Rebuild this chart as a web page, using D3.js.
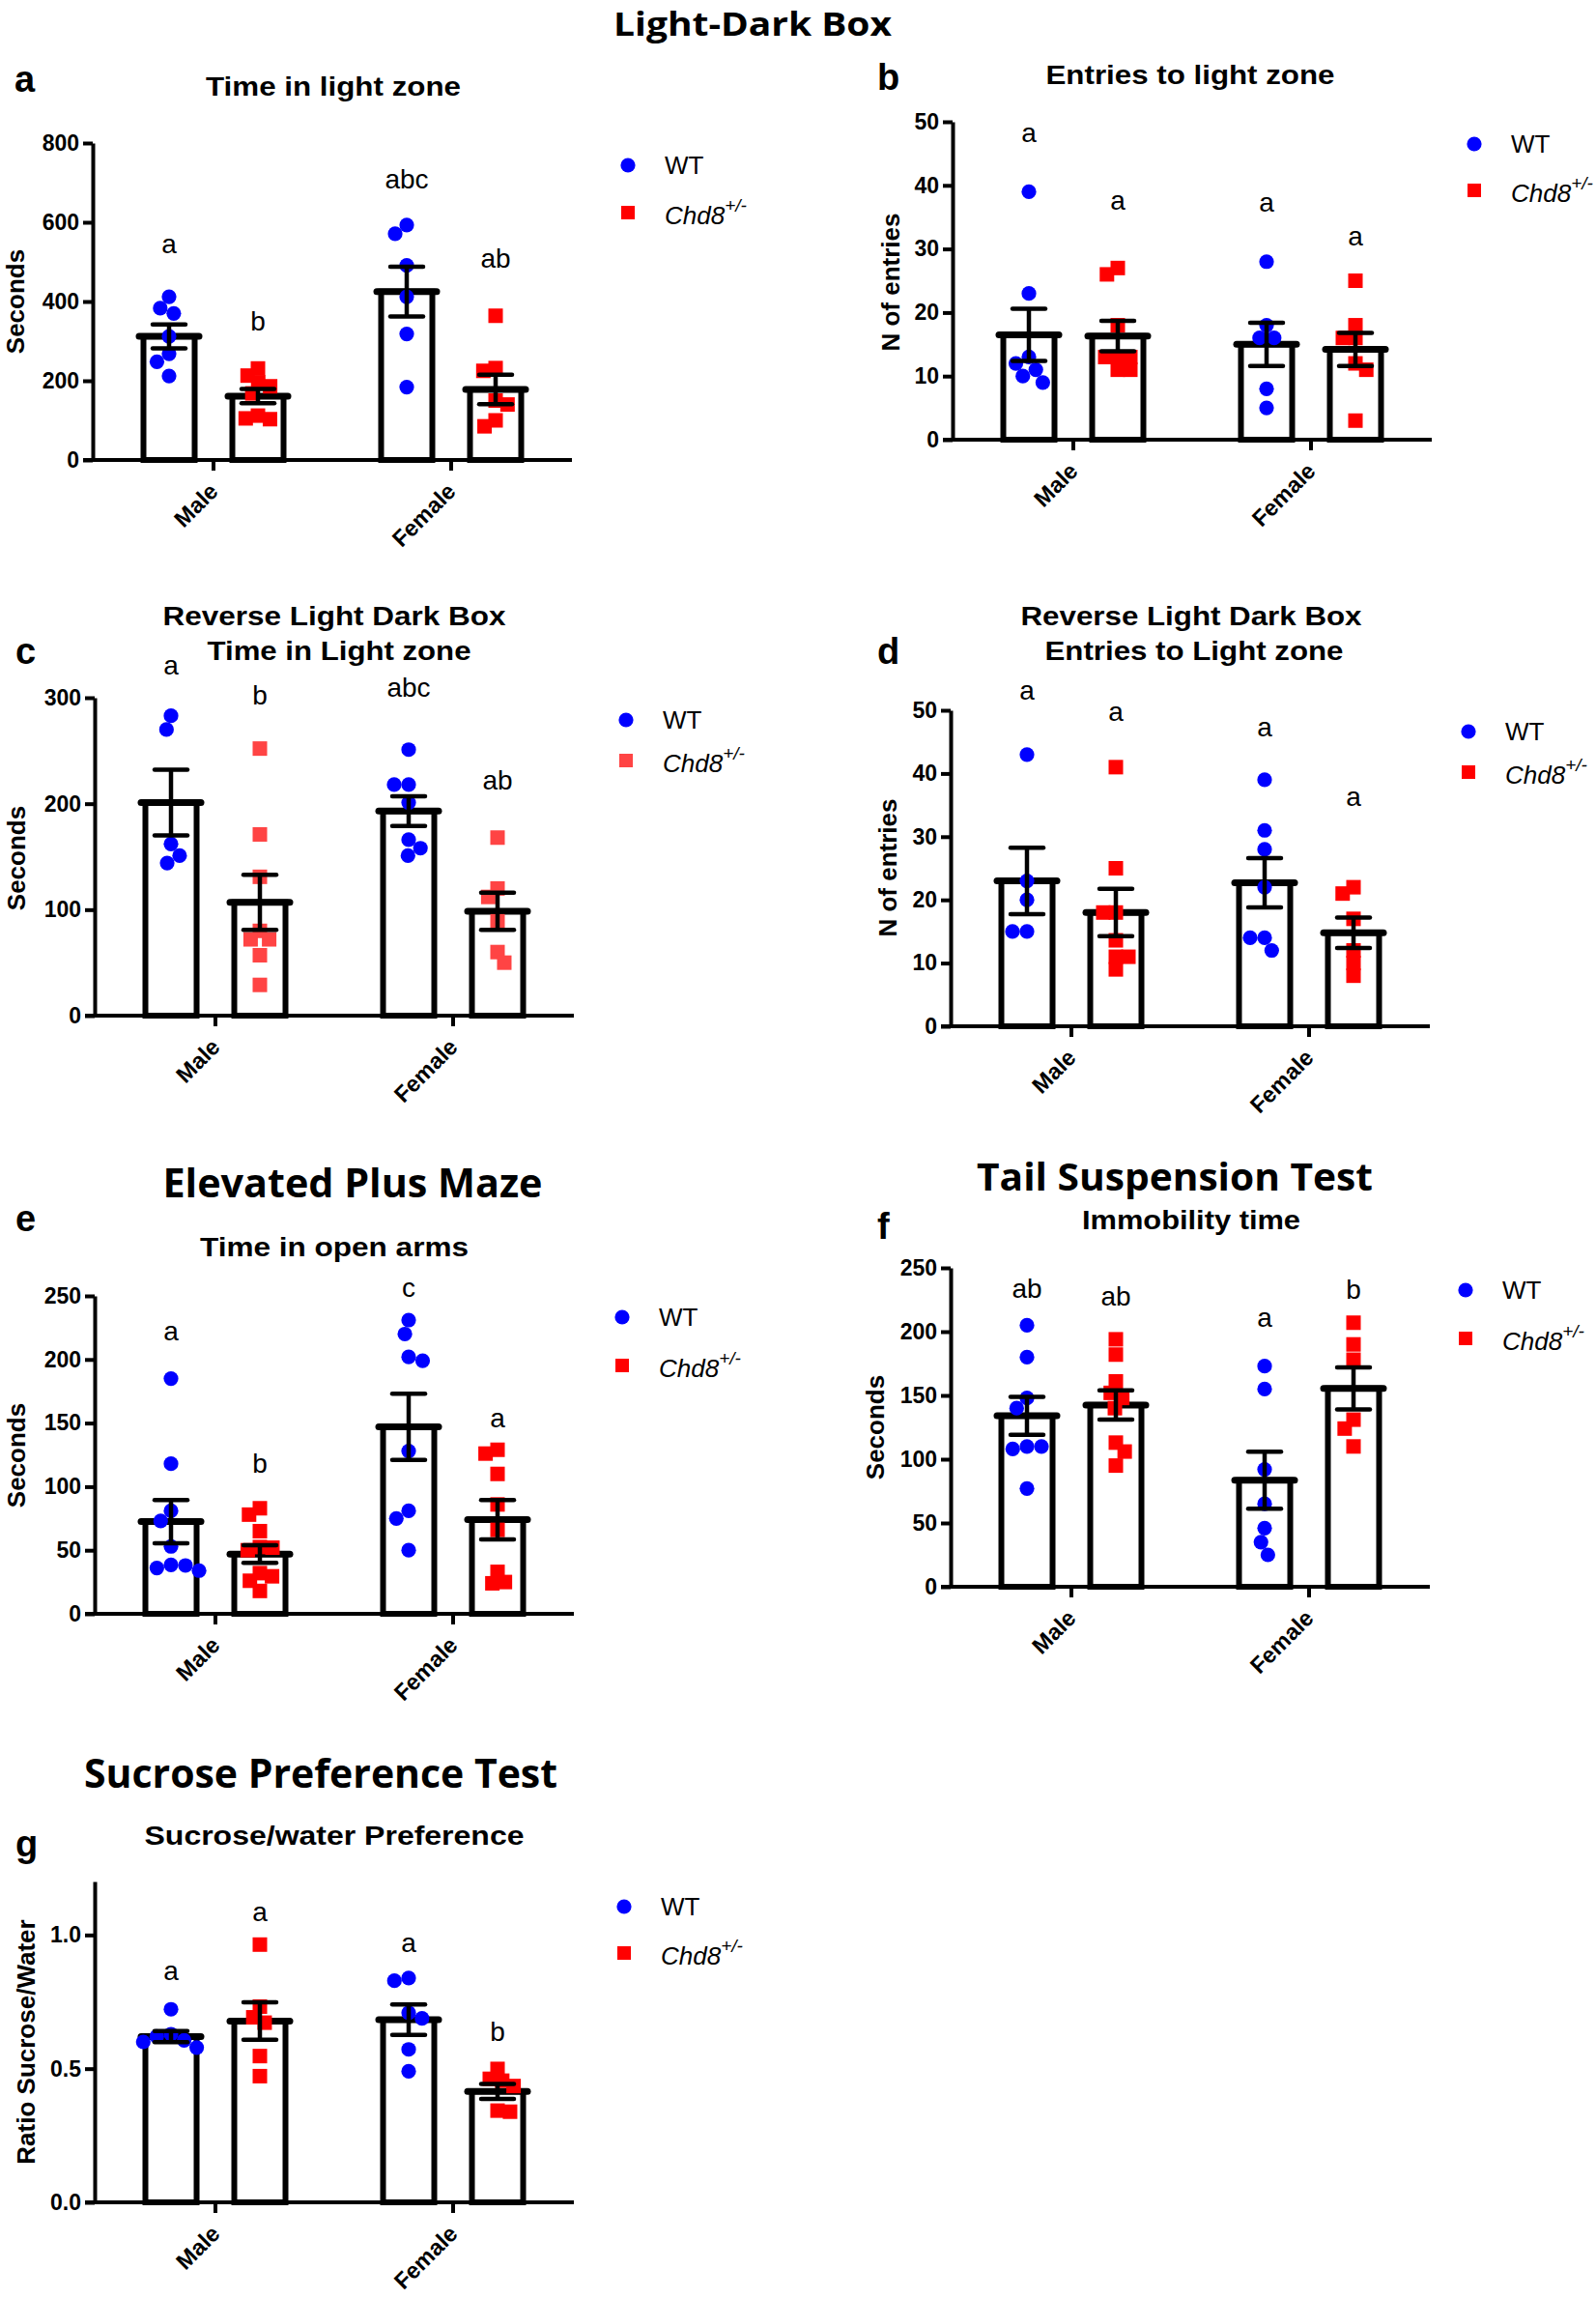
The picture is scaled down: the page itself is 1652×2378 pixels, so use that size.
<!DOCTYPE html>
<html><head><meta charset="utf-8">
<script src="https://cdn.jsdelivr.net/npm/d3@7"></script>
<style>body{margin:0;background:#fff}</style>
</head><body>
<script>
// ---------------- DATA ----------------
const groups = ["Male", "Female"];
const genotypes = ["WT", "Chd8+/-"];

// a: Light-Dark Box – Time in light zone (s)
const ldTimeMaleWT    = [412, 383, 370, 312, 268, 248, 212];
const ldTimeMaleHet   = [231, 213, 196, 186, 168, 112, 105, 103];
const ldTimeFemaleWT  = [593, 571, 491, 412, 318, 184];
const ldTimeFemaleHet = [364, 232, 225, 150, 140, 100, 85];
const ldTimeMean = [312, 161, 425, 178];
const ldTimeSem  = [30, 18, 63, 37];
const ldTimeLetters = ["a", "b", "abc", "ab"];
const ldTimeLetterLevel = [522, 327, 686, 486];
const ldTimeTicks = [0, 200, 400, 600, 800];

// b: Light-Dark Box – Entries to light zone
const ldEntMaleWT    = [39, 23, 13, 12, 11, 10, 9];
const ldEntMaleHet   = [27, 26, 18, 13, 13, 13, 11, 11];
const ldEntFemaleWT  = [28, 18, 16, 16, 8, 5];
const ldEntFemaleHet = [25, 18, 16, 16, 12, 11, 3];
const ldEntMean = [16.5, 16.3, 15, 14.2];
const ldEntSem  = [4.1, 2.4, 3.4, 2.6];
const ldEntLetters = ["a", "a", "a", "a"];
const ldEntLetterLevel = [46.8, 36.1, 35.9, 30.5];
const ldEntTicks = [0, 10, 20, 30, 40, 50];

// c: Reverse Light Dark Box – Time in light zone (s)
const rvTimeMaleWT    = [283, 270, 162, 151, 144];
const rvTimeMaleHet   = [252, 171, 131, 80, 72, 72, 57, 29];
const rvTimeFemaleWT  = [251, 218, 218, 201, 166, 158, 151];
const rvTimeFemaleHet = [168, 120, 112, 89, 60, 50];
const rvTimeMean = [201, 107, 193, 98.5];
const rvTimeSem  = [31, 26, 14, 17.5];
const rvTimeLetters = ["a", "b", "abc", "ab"];
const rvTimeLetterLevel = [322, 294, 301, 213];
const rvTimeTicks = [0, 100, 200, 300];

// d: Reverse Light Dark Box – Entries to light zone
const rvEntMaleWT    = [43, 23, 20, 15, 15];
const rvEntMaleHet   = [41, 25, 18, 18, 13.6, 11, 11, 9];
const rvEntFemaleWT  = [39, 31, 28, 22, 14, 14, 12];
const rvEntFemaleHet = [22, 21, 17, 12, 10, 8];
const rvEntMean = [23, 18, 22.7, 14.8];
const rvEntSem  = [5.25, 3.75, 3.9, 2.4];
const rvEntLetters = ["a", "a", "a", "a"];
const rvEntLetterLevel = [51.7, 48.3, 45.8, 34.9];
const rvEntTicks = [0, 10, 20, 30, 40, 50];

// e: Elevated Plus Maze – Time in open arms (s)
const epmMaleWT    = [185, 118, 81, 73, 53, 38.5, 38, 36, 34];
const epmMaleHet   = [83, 78, 65, 52.5, 52, 50, 32, 29.5, 26, 18];
const epmFemaleWT  = [231, 220, 202, 199, 128, 81, 75, 50];
const epmFemaleHet = [129, 126, 110, 86, 66, 33, 25, 24];
const epmMean = [72.5, 47, 147, 74];
const epmSem  = [17, 6.9, 26, 15.5];
const epmLetters = ["a", "b", "c", "a"];
const epmLetterLevel = [215, 111, 249, 147];
const epmTicks = [0, 50, 100, 150, 200, 250];

// f: Tail Suspension Test – Immobility time (s)
const tstMaleWT    = [205, 180, 148, 140, 110, 108, 110, 77];
const tstMaleHet   = [194, 182, 161, 152, 148, 140, 113, 106, 95];
const tstFemaleWT  = [173, 155, 92, 65, 46, 35, 25];
const tstFemaleHet = [207, 190, 178, 131, 124, 110];
const tstMean = [134, 142.5, 83.5, 155.5];
const tstSem  = [14.8, 11.5, 22.3, 16.5];
const tstLetters = ["ab", "ab", "a", "b"];
const tstLetterLevel = [226.7, 220.5, 203.8, 226.1];
const tstTicks = [0, 50, 100, 150, 200, 250];

// g: Sucrose Preference Test – ratio sucrose/water
const sptMaleWT    = [0.722, 0.629, 0.620, 0.606, 0.600, 0.579];
const sptMaleHet   = [0.964, 0.732, 0.692, 0.672, 0.547, 0.472];
const sptFemaleWT  = [0.839, 0.829, 0.709, 0.688, 0.572, 0.490];
const sptFemaleHet = [0.499, 0.462, 0.455, 0.435, 0.343, 0.339];
const sptMean = [0.62, 0.678, 0.683, 0.415];
const sptSem  = [0.021, 0.07, 0.057, 0.028];
const sptLetters = ["a", "a", "a", "b"];
const sptLetterLevel = [0.832, 1.052, 0.936, 0.604];
const sptTicks = [0, 0.5, 1.0];

// ---------------- LAYOUT / STYLE ----------------
const SANS = "'Liberation Sans', Arial, sans-serif";
const TITLE_FONT = "'Open Sans', 'Noto Sans', sans-serif";
const BLUE = "#0000ff", RED = "#ff0000", LIGHTRED = "#ff4444";

const panels = [
  {letter:"a", lx:15, ly:95, x0:96, y0:476, yTop:148, yMax:800, ticks:ldTimeTicks, fmt:d3.format("d"),
   series:[ldTimeMaleWT, ldTimeMaleHet, ldTimeFemaleWT, ldTimeFemaleHet], mean:ldTimeMean, sem:ldTimeSem,
   letters:ldTimeLetters, letterLevel:ldTimeLetterLevel, yLabel:"Seconds", yLabX:25, yLabY:312,
   titles:[["Time in light zone",345,99,264]], legX:650, legY:[171,220], het:RED},
  {letter:"b", lx:908, ly:93, x0:986, y0:455, yTop:126, yMax:50, ticks:ldEntTicks, fmt:d3.format("d"),
   series:[ldEntMaleWT, ldEntMaleHet, ldEntFemaleWT, ldEntFemaleHet], mean:ldEntMean, sem:ldEntSem,
   letters:ldEntLetters, letterLevel:ldEntLetterLevel, yLabel:"N of entries", yLabX:931, yLabY:292,
   titles:[["Entries to light zone",1232,86.5,299]], legX:1526, legY:[149,197], het:RED},
  {letter:"c", lx:16, ly:687, x0:98, y0:1051, yTop:722, yMax:300, ticks:rvTimeTicks, fmt:d3.format("d"),
   series:[rvTimeMaleWT, rvTimeMaleHet, rvTimeFemaleWT, rvTimeFemaleHet], mean:rvTimeMean, sem:rvTimeSem,
   letters:rvTimeLetters, letterLevel:rvTimeLetterLevel, yLabel:"Seconds", yLabX:26, yLabY:888,
   titles:[["Reverse Light Dark Box",346,647,355],["Time in Light zone",351,683,273]], legX:648, legY:[745,787], het:LIGHTRED},
  {letter:"d", lx:908, ly:687, x0:984, y0:1062, yTop:735, yMax:50, ticks:rvEntTicks, fmt:d3.format("d"),
   series:[rvEntMaleWT, rvEntMaleHet, rvEntFemaleWT, rvEntFemaleHet], mean:rvEntMean, sem:rvEntSem,
   letters:rvEntLetters, letterLevel:rvEntLetterLevel, yLabel:"N of entries", yLabX:928, yLabY:898,
   titles:[["Reverse Light Dark Box",1233,647,353],["Entries to Light zone",1236,683,309]], legX:1520, legY:[757,799], het:RED},
  {letter:"e", lx:16, ly:1274, x0:98, y0:1670, yTop:1341, yMax:250, ticks:epmTicks, fmt:d3.format("d"),
   series:[epmMaleWT, epmMaleHet, epmFemaleWT, epmFemaleHet], mean:epmMean, sem:epmSem,
   letters:epmLetters, letterLevel:epmLetterLevel, yLabel:"Seconds", yLabX:26, yLabY:1506,
   titles:[["Time in open arms",346,1300,278]], legX:644, legY:[1363,1413], het:RED},
  {letter:"f", lx:908, ly:1282, x0:984, y0:1642, yTop:1312, yMax:250, ticks:tstTicks, fmt:d3.format("d"),
   series:[tstMaleWT, tstMaleHet, tstFemaleWT, tstFemaleHet], mean:tstMean, sem:tstSem,
   letters:tstLetters, letterLevel:tstLetterLevel, yLabel:"Seconds", yLabX:915, yLabY:1477,
   titles:[["Immobility time",1233,1272,226]], legX:1517, legY:[1335,1385], het:RED},
  {letter:"g", lx:16, ly:1921, x0:98, y0:2279, yTop:1947, yMax:1.2, ticks:sptTicks, fmt:d3.format(".1f"),
   series:[sptMaleWT, sptMaleHet, sptFemaleWT, sptFemaleHet], mean:sptMean, sem:sptSem,
   letters:sptLetters, letterLevel:sptLetterLevel, yLabel:"Ratio Sucrose/Water", yLabX:36, yLabY:2113,
   titles:[["Sucrose/water Preference",346,1909,393]], legX:646, legY:[1973,2021], het:RED}
];

const bigTitles = [
  ["Light-Dark Box", 779, 37, 288, 34],
  ["Elevated Plus Maze", 365, 1239, 393, 42],
  ["Tail Suspension Test", 1216, 1232, 410, 40],
  ["Sucrose Preference Test", 332, 1850, 490, 42]
];

// ---------------- DRAW ----------------
const W = 1652, H = 2378;
const svg = d3.select("body").append("svg").attr("width", W).attr("height", H)
  .style("display","block");
svg.append("rect").attr("width", W).attr("height", H).attr("fill", "#fff");

bigTitles.forEach(([t, cx, by, w, fs]) => {
  svg.append("text").text(t).attr("x", cx).attr("y", by)
    .attr("text-anchor","middle").attr("font-family", TITLE_FONT)
    .attr("font-weight", 700).attr("font-size", fs)
    .attr("textLength", w).attr("lengthAdjust","spacingAndGlyphs");
});

// continuous beeswarm: place each point (top to bottom) at the x nearest the
// bar centre that does not overlap the points already placed
function swarm(values, y, cx, D) {
  const pts = values.map(v => ({v, py: y(v)})).sort((a, b) => a.py - b.py);
  const placed = [];
  let flip = -1;
  for (const p of pts) {
    const forb = [];
    placed.forEach(q => {
      const dy = Math.abs(q.py - p.py);
      if (dy < D) { const h = Math.sqrt(D * D - dy * dy); forb.push([q.off - h, q.off + h]); }
    });
    const cands = [0];
    forb.forEach(([a, b]) => { cands.push(a, b); });
    const ok = c => forb.every(([a, b]) => c <= a + 1e-6 || c >= b - 1e-6);
    let best = null;
    cands.filter(ok).forEach(c => {
      if (best === null || Math.abs(c) < Math.abs(best) - 0.5 ||
          (Math.abs(Math.abs(c) - Math.abs(best)) <= 0.5 && Math.sign(c) === flip)) best = c;
    });
    if (best !== 0) flip = -flip;
    p.off = best; p.px = cx + best;
    placed.push(p);
  }
  return placed;
}

function drawPanel(p) {
  const g = svg.append("g");
  const y = d3.scaleLinear().domain([0, p.yMax]).range([p.y0, p.yTop]);
  const xg = d3.scalePoint().domain(groups).range([p.x0 + 125, p.x0 + 371]);
  const xs = d3.scalePoint().domain(genotypes).range([-46, 46]);

  g.append("text").text(p.letter).attr("x", p.lx).attr("y", p.ly)
    .attr("font-family", SANS).attr("font-weight", 700).attr("font-size", 38);

  p.titles.forEach(([t, cx, by, w]) => {
    g.append("text").text(t).attr("x", cx).attr("y", by).attr("text-anchor", "middle")
      .attr("font-family", SANS).attr("font-weight", 700).attr("font-size", 27)
      .attr("textLength", w).attr("lengthAdjust", "spacingAndGlyphs");
  });

  g.append("text").text(p.yLabel)
    .attr("transform", `translate(${p.yLabX},${p.yLabY}) rotate(-90)`)
    .attr("text-anchor", "middle").attr("font-family", SANS)
    .attr("font-weight", 700).attr("font-size", 26);

  const bars = [];
  groups.forEach((grp, gi) => genotypes.forEach((gen, ki) => {
    const i = gi * 2 + ki;
    bars.push({i, grp, gen, cx: xg(grp) + xs(gen), vals: p.series[i], mean: p.mean[i], sem: p.sem[i],
      letter: p.letters[i], lvl: p.letterLevel[i]});
  }));

  const bw = 53;
  g.selectAll(".bar").data(bars).enter().append("rect")
    .attr("x", d => d.cx - bw / 2).attr("y", d => y(d.mean))
    .attr("width", bw).attr("height", d => p.y0 - y(d.mean))
    .attr("fill", "#fff").attr("stroke", "#000").attr("stroke-width", 6);
  g.selectAll(".meanline").data(bars).enter().append("line")
    .attr("x1", d => d.cx - 31).attr("x2", d => d.cx + 31)
    .attr("y1", d => y(d.mean)).attr("y2", d => y(d.mean))
    .attr("stroke", "#000").attr("stroke-width", 7).attr("stroke-linecap", "round");

  const axis = d3.axisLeft(y).tickValues(p.ticks).tickSize(10).tickSizeOuter(0).tickPadding(4).tickFormat(p.fmt);
  const ga = g.append("g").attr("transform", `translate(${p.x0},0)`).call(axis);
  ga.selectAll("path,line").attr("stroke", "#000").attr("stroke-width", 4);
  ga.selectAll("text").attr("font-family", SANS).attr("font-weight", 700)
    .attr("font-size", 23).attr("fill", "#000");
  g.append("line").attr("x1", p.x0 - 10).attr("x2", p.x0 + 496)
    .attr("y1", p.y0).attr("y2", p.y0).attr("stroke", "#000").attr("stroke-width", 4);
  groups.forEach(grp => {
    g.append("line").attr("x1", xg(grp)).attr("x2", xg(grp))
      .attr("y1", p.y0).attr("y2", p.y0 + 11).attr("stroke", "#000").attr("stroke-width", 4);
    g.append("text").text(grp)
      .attr("transform", `translate(${xg(grp) + 6},${p.y0 + 34}) rotate(-45)`)
      .attr("text-anchor", "end").attr("font-family", SANS)
      .attr("font-weight", 700).attr("font-size", 23.5);
  });

  bars.forEach(b => {
    if (b.gen === "WT") {
      const pts = swarm(b.vals, y, b.cx, 15);
      g.selectAll(null).data(pts).enter().append("circle")
        .attr("cx", d => d.px).attr("cy", d => d.py).attr("r", 7.6).attr("fill", BLUE);
    } else {
      const pts = swarm(b.vals, y, b.cx, 13);
      g.selectAll(null).data(pts).enter().append("rect")
        .attr("x", d => d.px - 7.5).attr("y", d => d.py - 7.5)
        .attr("width", 15).attr("height", 15).attr("fill", p.het);
    }
  });

  bars.forEach(b => {
    const hi = y(b.mean + b.sem), lo = y(b.mean - b.sem);
    g.append("line").attr("x1", b.cx).attr("x2", b.cx).attr("y1", hi).attr("y2", lo)
      .attr("stroke", "#000").attr("stroke-width", 4.5);
    [hi, lo].forEach(yy => g.append("line").attr("x1", b.cx - 17).attr("x2", b.cx + 17)
      .attr("y1", yy).attr("y2", yy).attr("stroke", "#000").attr("stroke-width", 4.5)
      .attr("stroke-linecap", "round"));
  });

  g.selectAll(".sig").data(bars).enter().append("text")
    .text(d => d.letter).attr("x", d => d.cx).attr("y", d => y(d.lvl))
    .attr("text-anchor", "middle").attr("font-family", SANS).attr("font-size", 28);

  g.append("circle").attr("cx", p.legX).attr("cy", p.legY[0]).attr("r", 7.6).attr("fill", BLUE);
  g.append("text").text("WT").attr("x", p.legX + 38).attr("y", p.legY[0] + 9)
    .attr("font-family", SANS).attr("font-size", 26);
  g.append("rect").attr("x", p.legX - 7).attr("y", p.legY[1] - 7).attr("width", 14).attr("height", 14)
    .attr("fill", p.het);
  const lt = g.append("text").attr("x", p.legX + 38).attr("y", p.legY[1] + 12)
    .attr("font-family", SANS).attr("font-size", 26).attr("font-style", "italic");
  lt.append("tspan").text("Chd8");
  lt.append("tspan").text("+/-").attr("font-size", 19).attr("dy", -13);
}

panels.forEach(drawPanel);
</script>
</body></html>
